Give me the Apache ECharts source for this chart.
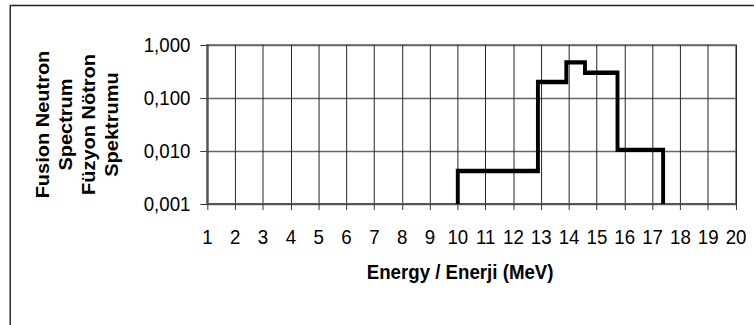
<!DOCTYPE html>
<html>
<head>
<meta charset="utf-8">
<script src="https://cdn.jsdelivr.net/npm/echarts@6/dist/echarts.min.js"></script>
<style>
  html, body { margin: 0; padding: 0; background: #fff; overflow: hidden; }
  #wrap { width: 754px; height: 325px; overflow: hidden; }
  /* The chart is laid out wider and squeezed horizontally, giving the condensed type of the original figure */
  #chart { width: 847px; height: 325px; transform: scaleX(0.89); transform-origin: 0 0; }
</style>
</head>
<body>
<div id="wrap"><div id="chart"></div></div>
<script>
// Energy bin edges (MeV) and the spectrum level in each bin
const binEdges = [10, 12.88, 13.9, 14.57, 15.74, 17.38];
const binValues = [0.0042, 0.2, 0.47, 0.3, 0.0105];
const baseline = 0.001;

// Axis ranges
const xRange = [1, 20];
const yRange = [0.001, 1];

const yTitle = 'Fusion Neutron\nSpectrum\nFüzyon Nötron\nSpektrumu';
const xTitle = 'Energy / Enerji (MeV)';

// Histogram outline: rise from the baseline, one flat run per bin, fall back down
const stepPoints = [[binEdges[0], baseline]];
binValues.forEach(function (v, i) {
  stepPoints.push([binEdges[i], v]);
  stepPoints.push([binEdges[i + 1], v]);
});
stepPoints.push([binEdges[binEdges.length - 1], baseline]);

const FONT = '"Liberation Sans", Arial, sans-serif';

const chart = echarts.init(document.getElementById('chart'), null, { renderer: 'svg' });
chart.setOption({
  animation: false,
  backgroundColor: '#fff',
  graphic: [{
    type: 'rect',
    shape: { x: 11.5, y: 5.5, width: 900, height: 400 },
    style: { fill: 'none', stroke: '#222', lineWidth: 1.6 },
    silent: true,
    z: 0
  }],
  grid: {
    left: 233, right: 20, top: 45, bottom: 121,
    show: true, borderColor: '#8a8a8a', borderWidth: 2.2, backgroundColor: 'transparent'
  },
  xAxis: {
    type: 'value',
    min: xRange[0], max: xRange[1], interval: 1,
    name: xTitle,
    nameLocation: 'middle',
    nameGap: 57,
    nameTextStyle: { fontFamily: FONT, fontSize: 21, fontWeight: 'bold', color: '#000', padding: [0, 26, 0, 0] },
    axisLine: { show: true, lineStyle: { color: '#555', width: 2 } },
    axisTick: { show: true, inside: false, length: 6, lineStyle: { color: '#333', width: 1.1 } },
    axisLabel: { fontFamily: FONT, fontSize: 21, color: '#000', margin: 22 },
    splitLine: { show: true, lineStyle: { color: '#222', width: 1.1 } }
  },
  yAxis: {
    type: 'log',
    logBase: 10,
    min: yRange[0], max: yRange[1],
    name: yTitle,
    nameLocation: 'middle',
    nameRotate: 90,
    nameGap: 94,
    nameTextStyle: { fontFamily: FONT, fontSize: 20, fontWeight: 'bold', color: '#000', lineHeight: 26, align: 'center' },
    axisLine: { show: true, lineStyle: { color: '#555', width: 2.2 } },
    axisTick: { show: true, inside: false, length: 8, lineStyle: { color: '#333', width: 1 } },
    axisLabel: {
      fontFamily: FONT, fontSize: 21, color: '#000', margin: 19,
      formatter: function (v) { return Number(v).toFixed(3).replace('.', ','); }
    },
    splitLine: { show: true, lineStyle: { color: '#666', width: 1.3 } }
  },
  series: [{
    type: 'line',
    data: stepPoints,
    symbol: 'none',
    clip: false,
    lineStyle: { color: '#000', width: 4.4, join: 'miter' },
    z: 5
  }]
});
</script>
</body>
</html>
